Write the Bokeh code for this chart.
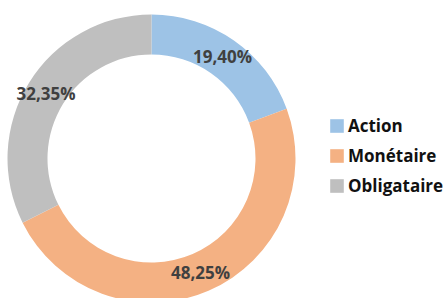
import math
from bokeh.plotting import figure
from bokeh.models import Range1d, ColumnDataSource, Legend, LegendItem
from bokeh.embed import file_html
from bokeh.resources import INLINE
from bokeh.core.properties import value

categories = ["Action", "Monétaire", "Obligataire"]
shares = [19.40, 48.25, 32.35]
labels = ["19,40%", "48,25%", "32,35%"]
colors = ["#9DC3E6", "#F4B183", "#BFBFBF"]

W, H = 443, 298
cx, cy = 151, 140
r_out, r_in = 144, 104

total = sum(shares)
starts, ends, lx, ly = [], [], [], []
acc = 0.0
for s in shares:
    a0 = math.pi / 2 - acc / total * 2 * math.pi
    a1 = math.pi / 2 - (acc + s) / total * 2 * math.pi
    mid = (a0 + a1) / 2
    rm = (r_out + r_in) / 2
    starts.append(a0)
    ends.append(a1)
    lx.append(cx + rm * math.cos(mid))
    ly.append(cy + rm * math.sin(mid))
    acc += s

src = ColumnDataSource(dict(cat=categories, start=starts, end=ends, color=colors,
                            lx=lx, ly=ly, label=labels,
                            nan=[float("nan")] * len(categories)))

p = figure(width=W, height=H, output_backend="svg", toolbar_location=None,
           x_range=Range1d(0, W), y_range=Range1d(0, H),
           min_border=0, outline_line_color=None)
p.axis.visible = False
p.grid.visible = False
p.background_fill_color = "white"

p.annular_wedge(x=cx, y=cy, inner_radius=r_in, outer_radius=r_out,
                start_angle="start", end_angle="end", direction="clock",
                fill_color="color", line_color=None, source=src)

p.text(x="lx", y="ly", text="label", source=src, text_align="center",
       text_baseline="middle", text_font=value("Open Sans"), text_font_style="bold",
       text_font_size="17px", text_color="#404040")

keys = p.quad(left="nan", right="nan", top="nan", bottom="nan", fill_color="color",
              line_color=None, source=src)
items = [LegendItem(label=c, renderers=[keys], index=i) for i, c in enumerate(categories)]

legend = Legend(items=items, location=(328, 101), padding=0, margin=0,
                border_line_alpha=0, background_fill_alpha=0,
                label_text_font="Open Sans",
                label_text_font_style="bold", label_text_font_size="17px",
                label_text_color="#111111", glyph_width=17, glyph_height=17,
                label_height=20, spacing=7, label_standoff=3)
p.add_layout(legend)

open("out.html", "w").write(file_html(p, INLINE))
